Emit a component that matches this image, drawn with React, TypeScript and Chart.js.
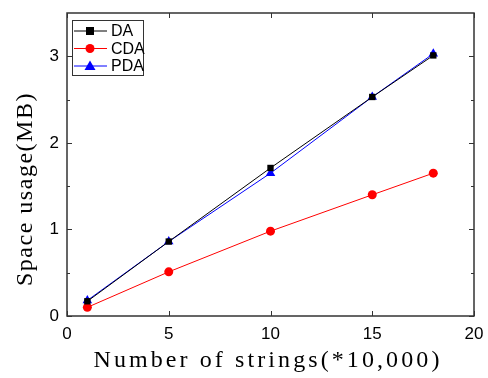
import React, { useEffect, useRef } from "react";
import { Chart, registerables } from "chart.js";

Chart.register(...registerables);

const xValues = [1, 5, 10, 15, 18];
const daValues = [0.17, 0.86, 1.71, 2.53, 3.01];
const cdaValues = [0.1, 0.51, 0.98, 1.4, 1.65];
const pdaValues = [0.18, 0.86, 1.65, 2.53, 3.03];
const xTicks = [0, 5, 10, 15, 20];
const yTicks = [0, 1, 2, 3];
const yMinorTicks = [0.5, 1.5, 2.5];
const seriesNames = ["DA", "CDA", "PDA"];
const seriesColors = ["#000000", "#ff0000", "#0000ff"];
const seriesMarkers = ["rect", "circle", "triangle"];
const xTitle = "Number of strings(*10,000)";
const yTitle = "Space usage(MB)";

function drawSpaced(ctx: any, text: string, cx: number, cy: number, targetWidth: number) {
  const n = text.length;
  ctx.letterSpacing = "0px";
  const w = ctx.measureText(text).width;
  const sp = Math.max(0, (targetWidth - w) / n);
  ctx.letterSpacing = sp.toFixed(2) + "px";
  ctx.textAlign = "left";
  ctx.fillText(text, cx - targetWidth / 2, cy);
  ctx.letterSpacing = "0px";
}

const framePlugin = {
  id: "framePlugin",
  afterDraw(chart: any) {
    const { ctx, chartArea: a, scales } = chart;
    const xs = scales.x;
    const ys = scales.y;
    ctx.save();
    ctx.strokeStyle = "#333333";
    ctx.lineWidth = 1.5;
    ctx.strokeRect(a.left, a.top, a.right - a.left, a.bottom - a.top);
    ctx.lineWidth = 1;
    ctx.beginPath();
    for (const v of xTicks) {
      const px = Math.round(xs.getPixelForValue(v)) + 0.5;
      ctx.moveTo(px, a.bottom);
      ctx.lineTo(px, a.bottom - 5);
      ctx.moveTo(px, a.top);
      ctx.lineTo(px, a.top + 5);
    }
    for (const v of yTicks) {
      const py = Math.round(ys.getPixelForValue(v)) + 0.5;
      ctx.moveTo(a.left, py);
      ctx.lineTo(a.left + 5, py);
      ctx.moveTo(a.right, py);
      ctx.lineTo(a.right - 5, py);
    }
    for (const v of yMinorTicks) {
      const py = Math.round(ys.getPixelForValue(v)) + 0.5;
      ctx.moveTo(a.left, py);
      ctx.lineTo(a.left + 3, py);
      ctx.moveTo(a.right, py);
      ctx.lineTo(a.right - 3, py);
    }
    ctx.stroke();

    // axis titles
    ctx.fillStyle = "#000000";
    ctx.font = "24px \"Liberation Serif\", \"Times New Roman\", serif";
    ctx.textBaseline = "alphabetic";
    drawSpaced(ctx, xTitle, 268, 367, 349);
    ctx.save();
    ctx.translate(32, 189);
    ctx.rotate(-Math.PI / 2);
    drawSpaced(ctx, yTitle, 0, 0, 194);
    ctx.restore();

    // legend
    const lx = 72, ly = 20, lw = 71, lh = 55;
    ctx.fillStyle = "#ffffff";
    ctx.fillRect(lx, ly, lw, lh);
    ctx.strokeStyle = "#333333";
    ctx.lineWidth = 1;
    ctx.strokeRect(lx + 0.5, ly + 0.5, lw, lh);
    const rows = [31, 48.5, 66];
    for (let i = 0; i < 3; i++) {
      const y = rows[i];
      ctx.strokeStyle = seriesColors[i];
      ctx.lineWidth = 1;
      ctx.beginPath();
      ctx.moveTo(lx + 2, y);
      ctx.lineTo(lx + 35, y);
      ctx.stroke();
      ctx.fillStyle = seriesColors[i];
      const cx = lx + 18;
      if (seriesMarkers[i] === "rect") {
        ctx.fillRect(cx - 4, y - 4, 8, 8);
      } else if (seriesMarkers[i] === "circle") {
        ctx.beginPath();
        ctx.arc(cx, y, 4.5, 0, Math.PI * 2);
        ctx.fill();
      } else {
        ctx.beginPath();
        ctx.moveTo(cx, y - 5.5);
        ctx.lineTo(cx + 5.5, y + 4);
        ctx.lineTo(cx - 5.5, y + 4);
        ctx.closePath();
        ctx.fill();
      }
      ctx.fillStyle = "#000000";
      ctx.font = "16px \"Liberation Sans\", Arial, sans-serif";
      ctx.textAlign = "left";
      ctx.textBaseline = "middle";
      ctx.fillText(seriesNames[i], lx + 39, y + 1);
    }
    ctx.restore();
  },
};

export default function App() {
  const ref = useRef<HTMLCanvasElement>(null);
  useEffect(() => {
    const seriesData = [daValues, cdaValues, pdaValues];
    const chart = new Chart(ref.current as HTMLCanvasElement, {
      type: "line",
      data: {
        datasets: seriesNames.map((name, i) => ({
          label: name,
          data: xValues.map((x, j) => ({ x, y: seriesData[i][j] })),
          borderColor: seriesColors[i],
          backgroundColor: seriesColors[i],
          borderWidth: 1,
          pointStyle: seriesMarkers[i] as any,
          pointRadius: i === 2 ? 5.5 : 4.5,
          pointBorderWidth: 0,
          tension: 0,
        })),
      },
      options: {
        animation: false,
        responsive: false,
        layout: { padding: { top: 13, right: 14, left: 0, bottom: 0 } },
        plugins: { legend: { display: false }, tooltip: { enabled: false } },
        scales: {
          x: {
            type: "linear",
            min: 0,
            max: 20,
            afterFit: (s: any) => {
              s.height = 62;
              s.paddingLeft = 0;
              s.paddingRight = 0;
            },
            afterBuildTicks: (s: any) => {
              s.ticks = xTicks.map((v) => ({ value: v }));
            },
            grid: { display: false, drawTicks: false },
            border: { display: false },
            ticks: {
              padding: 8,
              color: "#000000",
              font: { family: "'Liberation Sans'", size: 17 },
              maxRotation: 0,
            },
          },
          y: {
            type: "linear",
            min: 0,
            max: 3.5,
            afterFit: (s: any) => {
              s.width = 67;
              s.paddingTop = 0;
              s.paddingBottom = 0;
            },
            afterBuildTicks: (s: any) => {
              s.ticks = yTicks.map((v) => ({ value: v }));
            },
            grid: { display: false, drawTicks: false },
            border: { display: false },
            ticks: {
              padding: 8,
              color: "#000000",
              font: { family: "'Liberation Sans'", size: 17 },
            },
          },
        },
      },
      plugins: [framePlugin],
    });
    return () => chart.destroy();
  }, []);
  return (
    <div style={{ position: "absolute", left: 0, top: 0, width: 488, height: 378, background: "#fff" }}>
      <canvas ref={ref} width={488} height={378} style={{ display: "block" }} />
    </div>
  );
}
